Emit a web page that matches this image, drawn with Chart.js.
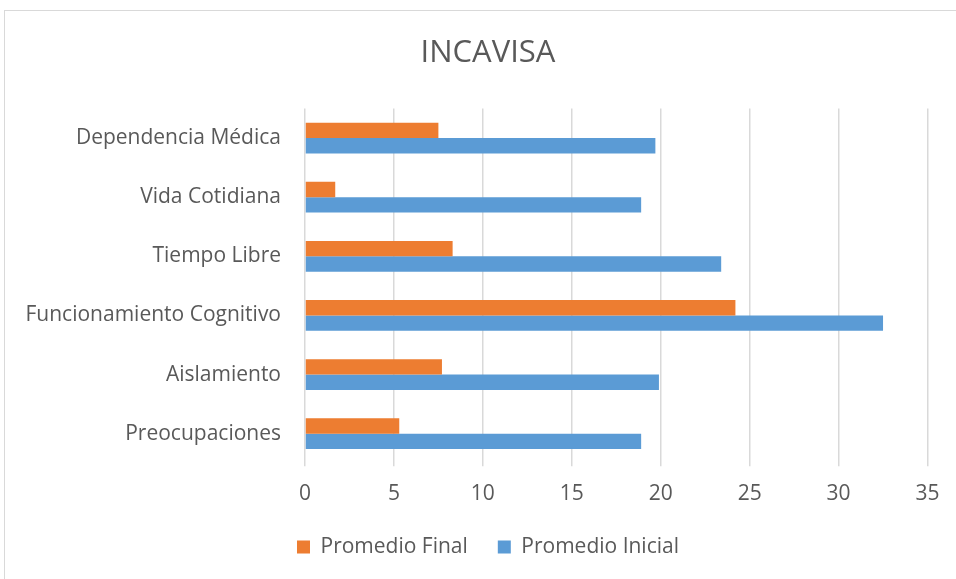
<!DOCTYPE html>
<html>
<head>
<meta charset="utf-8">
<script src="https://cdn.jsdelivr.net/npm/chart.js@4"></script>
<style>
  body { margin: 0; background: #fff; }
  #wrap { position: relative; width: 956px; height: 579px; }
  #frame { position: absolute; left: 4px; top: 10px; width: 980px; height: 580px; border: 1px solid #d9d9d9; box-sizing: border-box; }
  canvas { position: absolute; left: 0; top: 0; }
</style>
</head>
<body>
<div id="wrap">
  <div id="frame"></div>
  <canvas id="chart" width="956" height="579"></canvas>
</div>
<script>
// datos INCAVISA
const categorias = ['Dependencia Médica', 'Vida Cotidiana', 'Tiempo Libre', 'Funcionamiento Cognitivo', 'Aislamiento', 'Preocupaciones'];
const promedioFinal = [7.5, 1.7, 8.3, 24.2, 7.7, 5.3];
const promedioInicial = [19.7, 18.9, 23.4, 32.5, 19.9, 18.9];
const ticksX = [0, 5, 10, 15, 20, 25, 30, 35];

const gris = '#595959';
const fuente = "'Open Sans', sans-serif";

const ctx = document.getElementById('chart').getContext('2d');
new Chart(ctx, {
    type: 'bar',
    data: {
        labels: categorias,
        datasets: [
            { label: 'Promedio Final', data: promedioFinal, backgroundColor: '#ED7D31', borderWidth: 0 },
            { label: 'Promedio Inicial', data: promedioInicial, backgroundColor: '#5B9BD5', borderWidth: 0 }
        ]
    },
    options: {
        indexAxis: 'y',
        responsive: false,
        animation: false,
        layout: { padding: { left: 20, right: 0, top: 0, bottom: 11.5 } },
        datasets: { bar: { categoryPercentage: 0.52, barPercentage: 1 } },
        plugins: {
            title: {
                display: true,
                text: 'INCAVISA',
                color: gris,
                font: { family: fuente, size: 31, weight: 'normal' },
                padding: { top: 34.4, bottom: 36.9 }
            },
            legend: {
                position: 'bottom',
                labels: {
                    color: gris,
                    font: { family: fuente, size: 21 },
                    boxWidth: 13,
                    boxHeight: 13,
                    padding: 30
                }
            },
            tooltip: { enabled: false }
        },
        scales: {
            x: {
                min: 0,
                max: 35,
                afterBuildTicks: axis => { axis.ticks = ticksX.map(v => ({ value: v })); },
                grid: { color: '#d9d9d9', lineWidth: 1.5, drawTicks: true, tickLength: 3 },
                border: { display: false },
                ticks: { color: gris, font: { family: fuente, size: 21 }, padding: 15 },
                afterFit: axis => { axis.height = 43.2; }
            },
            y: {
                grid: { display: false },
                border: { display: false },
                ticks: { color: gris, font: { family: fuente, size: 21 }, padding: 16 },
                afterFit: axis => { axis.width = 305 - 20; }
            },
            // eje vacio a la derecha, solo para dejar el margen
            yDer: {
                type: 'category',
                position: 'right',
                grid: { display: false },
                border: { display: false },
                ticks: { display: false },
                afterFit: axis => { axis.width = 28.5; }
            }
        }
    }
});
</script>
</body>
</html>
